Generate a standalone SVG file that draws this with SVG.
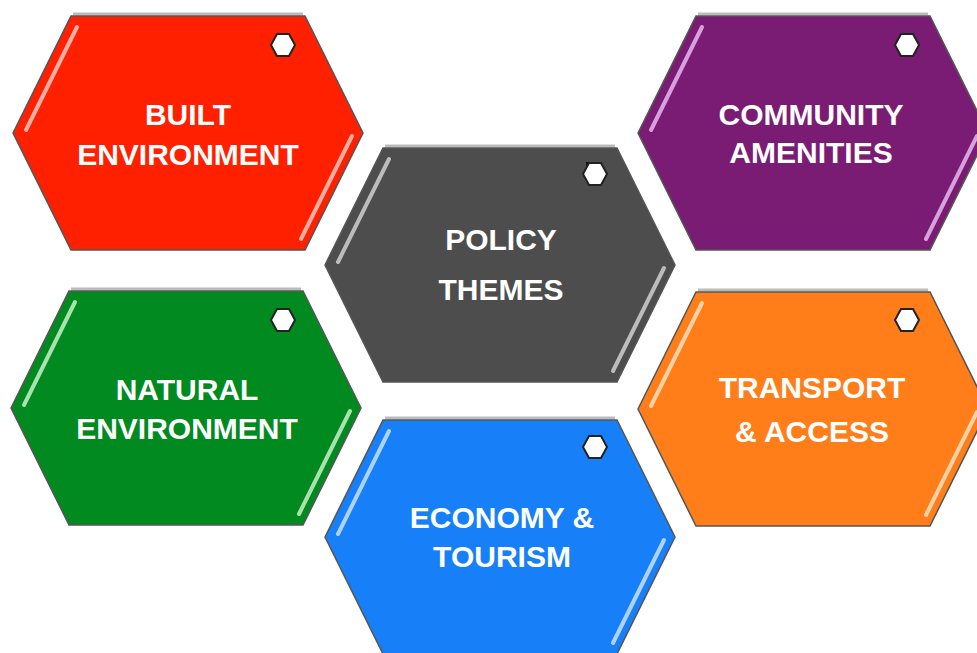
<svg xmlns="http://www.w3.org/2000/svg" xmlns:xlink="http://www.w3.org/1999/xlink" width="977" height="653" viewBox="0 0 977 653">
<style>
.lbl{font-family:"Liberation Sans",Arial,sans-serif;font-weight:bold;font-size:30px;fill:#fff;text-anchor:middle}
.hex{stroke:#555;stroke-width:1.5}
.band{fill:none;stroke:#bbb;stroke-width:3}
.hl{fill:none;stroke-width:4;stroke-linecap:round;opacity:0.85}
.ico{fill:#fff;stroke:#222;stroke-width:2}
</style>
<defs>
<path id="hx" d="M-175,0 L-117,-117 L117,-117 L175,0 L117,117 L-117,117 Z"/>
<path id="ic" d="M-12,0 L-6,-11 L6,-11 L12,0 L6,11 L-6,11 Z"/>
<path id="hla" d="M-111,-106 L-162,-3"/>
<path id="hlb" d="M164,3 L113,106"/>
</defs>
<rect width="977" height="653" fill="#fff"/>

<g id="built">
<g transform="translate(188,133)">
<line x1="-115" y1="-119" x2="115" y2="-119" class="band"/>
<use xlink:href="#hx" class="hex" fill="#ff2000"/>
<use xlink:href="#hla" class="hl" stroke="#ffc8c0"/>
<use xlink:href="#hlb" class="hl" stroke="#ffc8c0"/>
<use xlink:href="#ic" class="ico" transform="translate(95,-88)"/>
</g>
<text class="lbl" x="188" y="125">BUILT</text>
<text class="lbl" x="188" y="165">ENVIRONMENT</text>
</g>

<g id="policy">
<g transform="translate(500,265)">
<line x1="-115" y1="-119" x2="115" y2="-119" class="band"/>
<use xlink:href="#hx" class="hex" fill="#4d4d4d"/>
<use xlink:href="#hla" class="hl" stroke="#d0d0d0"/>
<use xlink:href="#hlb" class="hl" stroke="#d0d0d0"/>
<rect x="86" y="-103" width="14" height="5" fill="#111"/>
<use xlink:href="#ic" class="ico" transform="translate(95,-91)"/>
</g>
<text class="lbl" x="501" y="250">POLICY</text>
<text class="lbl" x="501" y="300">THEMES</text>
</g>

<g id="community">
<g transform="translate(813,133)">
<line x1="-115" y1="-119" x2="115" y2="-119" class="band"/>
<use xlink:href="#hx" class="hex" fill="#7b1c74"/>
<use xlink:href="#hla" class="hl" stroke="#e8b8f0"/>
<use xlink:href="#hlb" class="hl" stroke="#e8b8f0"/>
<use xlink:href="#ic" class="ico" transform="translate(94,-88)"/>
</g>
<text class="lbl" x="811" y="125" font-size="31">COMMUNITY</text>
<text class="lbl" x="811" y="163">AMENITIES</text>
</g>

<g id="natural">
<g transform="translate(186,408)">
<line x1="-115" y1="-119" x2="115" y2="-119" class="band"/>
<use xlink:href="#hx" class="hex" fill="#008a20"/>
<use xlink:href="#hla" class="hl" stroke="#c8f0c8"/>
<use xlink:href="#hlb" class="hl" stroke="#c8f0c8"/>
<use xlink:href="#ic" class="ico" transform="translate(97,-88)"/>
</g>
<text class="lbl" x="187" y="400">NATURAL</text>
<text class="lbl" x="187" y="439">ENVIRONMENT</text>
</g>

<g id="transport">
<g transform="translate(813,409)">
<line x1="-115" y1="-119" x2="115" y2="-119" class="band"/>
<use xlink:href="#hx" class="hex" fill="#ff7e1a"/>
<use xlink:href="#hla" class="hl" stroke="#ffe0c0"/>
<use xlink:href="#hlb" class="hl" stroke="#ffe0c0"/>
<use xlink:href="#ic" class="ico" transform="translate(94,-89)"/>
</g>
<text class="lbl" x="812" y="398">TRANSPORT</text>
<text class="lbl" x="812" y="442">&amp; ACCESS</text>
</g>

<g id="economy">
<g transform="translate(500,537)">
<line x1="-115" y1="-119" x2="115" y2="-119" class="band"/>
<use xlink:href="#hx" class="hex" fill="#1780f8"/>
<use xlink:href="#hla" class="hl" stroke="#c8e0ff"/>
<use xlink:href="#hlb" class="hl" stroke="#c8e0ff"/>
<use xlink:href="#ic" class="ico" transform="translate(95,-90)"/>
</g>
<text class="lbl" x="502" y="528">ECONOMY &amp;</text>
<text class="lbl" x="502" y="567">TOURISM</text>
</g>

<g id="connectors"/>
</svg>
